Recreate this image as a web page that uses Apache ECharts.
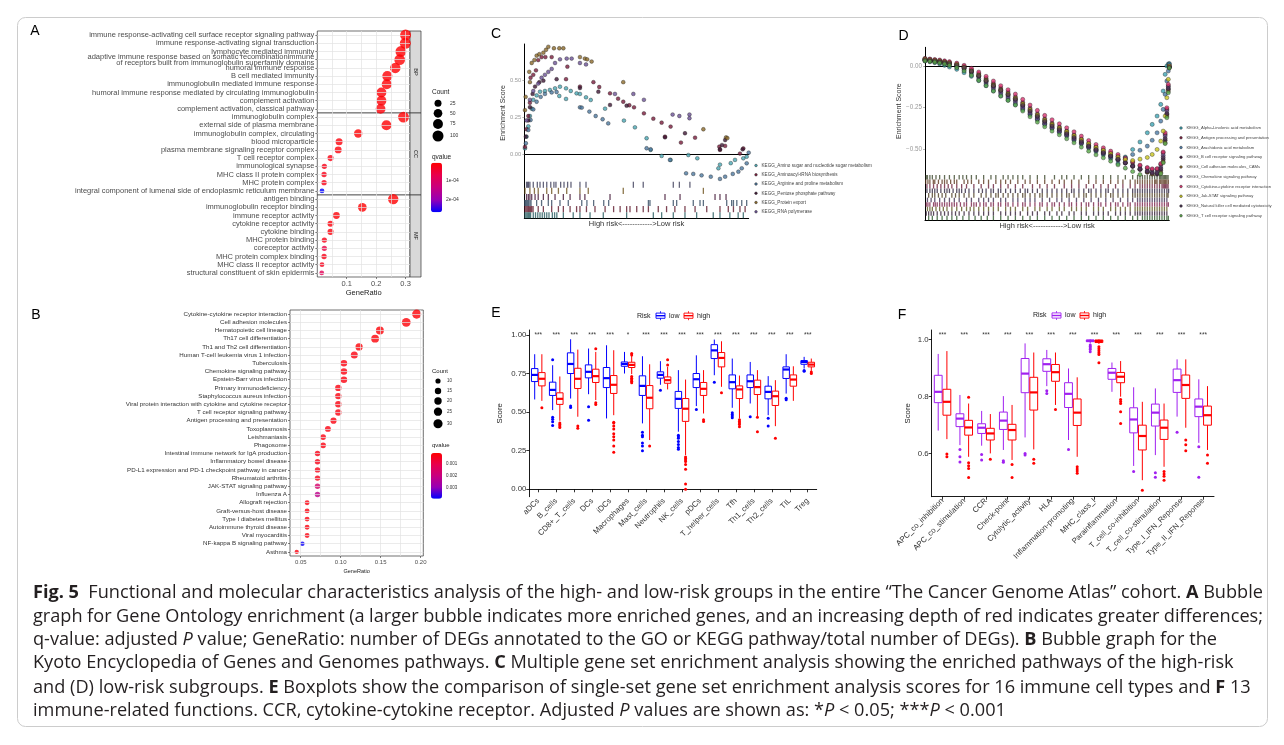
<!DOCTYPE html>
<html><head><meta charset="utf-8">
<script src="https://cdn.jsdelivr.net/npm/echarts@6/dist/echarts.min.js"></script>
<style>html,body{margin:0;padding:0;background:#fff}#c{width:1284px;height:745px}</style>
</head><body><div id="c"></div>
<script>
// ===================== DATA =====================
// ---- Panel A (GO enrichment) ----
const A_BP_TERMS = ['immune response-activating cell surface receptor signaling pathway','immune response-activating signal transduction','lymphocyte mediated immunity','adaptive immune response based on somatic recombinationimmune\nof receptors built from immunoglobulin superfamily domains','humoral immune response','B cell mediated immunity','immunoglobulin mediated immune response','humoral immune response mediated by circulating immunoglobulin','complement activation','complement activation, classical pathway'];
const A_BP_RATIO = [0.300,0.299,0.284,0.280,0.265,0.238,0.236,0.218,0.218,0.215];
const A_BP_COUNT = [100,100,95,93,88,79,79,73,73,72];
const A_BP_Q = [0.000001,0.000001,0.000002,0.000002,0.000003,0.000004,0.000004,0.000005,0.000005,0.000006];
const A_CC_TERMS = ['immunoglobulin complex','external side of plasma membrane','immunoglobulin complex, circulating','blood microparticle','plasma membrane signaling receptor complex','T cell receptor complex','immunological synapse','MHC class II protein complex','MHC protein complex','integral component of lumenal side of endoplasmic reticulum membrane'];
const A_CC_RATIO = [0.293,0.235,0.139,0.074,0.071,0.045,0.024,0.023,0.023,0.016];
const A_CC_COUNT = [98,78,46,25,24,15,8,8,8,5];
const A_CC_Q = [0.000001,0.000002,0.000003,0.00001,0.00001,0.000015,0.00002,0.00002,0.00002,0.00027];
const A_MF_TERMS = ['antigen binding','immunoglobulin receptor binding','immune receptor activity','cytokine receptor activity','cytokine binding','MHC protein binding','coreceptor activity','MHC protein complex binding','MHC class II receptor activity','structural constituent of skin epidermis'];
const A_MF_RATIO = [0.258,0.153,0.065,0.045,0.045,0.024,0.024,0.023,0.016,0.015];
const A_MF_COUNT = [86,51,22,15,15,8,8,8,5,5];
const A_MF_Q = [0.000001,0.000002,0.000005,0.00001,0.00001,0.00002,0.00006,0.00002,0.000025,0.00008];
const A_STRIPS = ['BP','CC','MF'];
const A_X_TICKS = [0.1,0.2,0.3];
const A_GRID = [0.05,0.1,0.15,0.2,0.25,0.3];
const A_COUNT_BREAKS = [25,50,75,100];
const A_Q_TICKS = [0.0001,0.0002];
const A_Q_LABELS = ['1e-04','2e-04'];

// ---- Panel B (KEGG enrichment) ----
const B_TERMS = ['Cytokine-cytokine receptor interaction','Cell adhesion molecules','Hematopoietic cell lineage','Th17 cell differentiation','Th1 and Th2 cell differentiation','Human T-cell leukemia virus 1 infection','Tuberculosis','Chemokine signaling pathway','Epstein-Barr virus infection','Primary immunodeficiency','Staphylococcus aureus infection','Viral protein interaction with cytokine and cytokine receptor','T cell receptor signaling pathway','Antigen processing and presentation','Toxoplasmosis','Leishmaniasis','Phagosome','Intestinal immune network for IgA production','Inflammatory bowel disease','PD-L1 expression and PD-1 checkpoint pathway in cancer','Rheumatoid arthritis','JAK-STAT signaling pathway','Influenza A','Allograft rejection','Graft-versus-host disease','Type I diabetes mellitus','Autoimmune thyroid disease','Viral myocarditis','NF-kappa B signaling pathway','Asthma'];
const B_RATIO = [0.195,0.182,0.149,0.143,0.123,0.117,0.104,0.104,0.104,0.097,0.097,0.097,0.097,0.091,0.084,0.078,0.078,0.071,0.071,0.071,0.071,0.071,0.071,0.058,0.058,0.058,0.058,0.058,0.052,0.045];
const B_COUNT = [30,28,23,22,19,18,16,16,16,15,15,15,15,14,13,12,12,11,11,11,11,11,11,9,9,9,9,9,8,7];
const B_Q = [0.0002,0.0002,0.0002,0.0002,0.0002,0.0003,0.0003,0.0003,0.0003,0.0003,0.0003,0.0003,0.0003,0.0003,0.0003,0.0003,0.0003,0.0004,0.0004,0.0004,0.0004,0.0016,0.0022,0.0003,0.0003,0.0003,0.0003,0.0003,0.0038,0.0003];
const B_X_TICKS = [0.05,0.10,0.15,0.20];
const B_GRID = [0.05,0.075,0.1,0.125,0.15,0.175,0.2];
const B_COUNT_BREAKS = [10,15,20,25,30];
const B_Q_TICKS = [0.001,0.002,0.003];
const B_Q_LABELS = ['0.001','0.002','0.003'];

// ---- Panel C (GSEA high risk) ----
const C_NAMES = ['KEGG_Amino sugar and nucleotide sugar metabolism','KEGG_Aminoacyl-tRNA biosynthesis','KEGG_Arginine and proline metabolism','KEGG_Pentose phosphate pathway','KEGG_Protein export','KEGG_RNA polymerase'];
const C_COLORS = ['#4AA8B4','#7A1C3C','#4E79A0','#3E1634','#8C6A2A','#6B5196'];
const C_AMINO_SUGAR = [[0.3,0.04],[1,0.12],[1.8,0.19],[2.5,0.26],[3.3,0.31],[4,0.37],[5.5,0.40],[7,0.425],[9.2,0.43],[11.4,0.437],[13.7,0.448],[15.9,0.459],[18.6,0.448],[15.6,0.396],[18.6,0.376],[20.7,0.43],[23.3,0.414],[24.8,0.41],[27.5,0.387],[29.6,0.369],[36,0.31],[44.4,0.229],[49.3,0.183],[54.5,0.109],[56.3,0.03],[61.2,-0.011],[65.2,-0.038],[73.1,-0.005],[77.1,-0.027],[86.5,-0.095],[87.2,-0.07],[92,-0.06],[93.9,-0.038],[97.6,-0.027],[99.1,-0.016]];
const C_AMINOACYL = [[0.3,0.05],[1,0.17],[1.8,0.26],[2.5,0.35],[2.8,0.52],[4,0.54],[5.2,0.57],[6.2,0.64],[7.7,0.66],[9.4,0.66],[12.2,0.66],[19.2,0.595],[18.6,0.51],[24.8,0.46],[30.8,0.49],[33.4,0.457],[38.2,0.414],[41.8,0.378],[44.1,0.357],[46.8,0.333],[48.9,0.319],[53.3,0.278],[57.5,0.242],[61.2,0.215],[65.2,0.188],[62.7,0.12],[69.8,0.08],[76.1,0.113],[86.9,0.052],[87.2,0.03],[89.5,0.057],[96.1,0.005],[97.6,0.04]];
const C_ARGININE = [[0.7,0.075],[1.8,0.165],[2.8,0.233],[4,0.305],[5.5,0.357],[7.3,0.39],[9.2,0.41],[12.2,0.42],[14.4,0.423],[24.8,0.319],[25.6,0.317],[29,0.29],[31.8,0.26],[34.9,0.238],[37.4,0.21],[54.5,0.041],[56.3,0.034],[64.9,-0.038],[72.1,-0.129],[75.3,-0.133],[79,-0.143],[83.1,-0.152],[87.2,-0.167],[89.5,-0.152],[92.9,-0.133],[95.4,-0.118],[96.9,-0.095],[99.1,-0.061],[100,0.011]];
const C_PENTOSE = [[0.7,0.12],[1.8,0.23],[2.5,0.32],[3.7,0.41],[4.8,0.46],[6.7,0.49],[8.5,0.5],[14.4,0.51],[24.8,0.45],[33,0.425],[38.2,0.335],[45.6,0.33],[62.7,0.115],[71.6,0.143],[87.2,0.034],[88.1,0.063],[89.5,0.097],[97.3,0.034]];
const C_PROTEIN_EXPORT = [[0.3,0.3],[0.6,0.39],[2.2,0.56],[2.5,0.49],[3.3,0.62],[4.5,0.64],[5.5,0.67],[6.7,0.68],[8.5,0.69],[9.7,0.71],[10.7,0.73],[13.2,0.72],[15.6,0.72],[17.4,0.72],[24.8,0.66],[27,0.65],[28,0.645],[30,0.63],[44.1,0.49],[79.8,0.17],[89.9,0.115],[90.5,0.11]];
const C_RNA_POL = [[1,0.23],[2.5,0.37],[4,0.43],[6.2,0.48],[7.7,0.52],[9.2,0.54],[10.7,0.56],[12.2,0.58],[13.7,0.62],[15.9,0.645],[18.9,0.65],[21.1,0.65],[24.8,0.62],[27.5,0.61],[40.4,0.41],[48.6,0.41],[53.3,0.37],[66.1,0.27],[69.1,0.26],[73.6,0.27],[73.6,0.245]];
const C_SERIES = [C_AMINO_SUGAR,C_AMINOACYL,C_ARGININE,C_PENTOSE,C_PROTEIN_EXPORT,C_RNA_POL];
const C_Y_TICKS = [0,0.25,0.5];
// rug rows (top to bottom), gene positions in % of ranked list
const C_RUG = [
 [1,1.5,1.9,2.5,4,5.8,7,8.5,10,11.8,13.2,14.1,16.2,17.7,19.3,20.8,24.8,27.5,48.6,53,66.4,69.1,73.8],
 [0.3,2.5,4.5,6.2,10,12.2,15.2,18.9,24.8,28.5,44.1,79.8],
 [1,1.8,2.5,3.3,4.8,6.2,8.5,10.7,13.7,17.4,20.4,24.8,27,38.2,62.7,69.4,85,87.2,89.9],
 [0.2,0.6,1,1.5,1.9,2.5,3,5.5,7.7,10.7,12.2,15.9,19.6,25.6,27.9,30.9,35.4,37.6,55.3,56,66.4,67.9,75.3,78.3,79.8,90.2,92.4,93.2,94.7,96.9,99.1],
 [0.3,0.8,1.3,1.8,2.3,2.8,3.3,3.9,6.2,8.5,12.2,15.2,17.4,20.4,23.3,24.8,27.7,31.5,36,39.8,42.7,45.6,47.1,50.1,53,55.3,59.7,63.4,67.1,71.6,76.1,81.3,87.2,90.9,93.2,96.1,98.4],
 [0.3,0.8,1.3,1.8,2.3,2.8,4,5,6,7,8,9,10,11,12.5,13.5,14.5,17.4,21.8,24.8,29.3,35.2,45.6,57.5,61.2,66.4,71.6,76.8,84.2,87.2,91.6,95.3,97.6]
];
const C_RUG_COLORS = ['#3E3E5A','#6E521E','#421636','#344A62','#5E1629','#285C60'];

// ---- Panel D (GSEA low risk) ----
const D_NAMES = ['KEGG_Alpha-Linolenic acid metabolism','KEGG_Antigen processing and presentation','KEGG_Arachidonic acid metabolism','KEGG_B cell receptor signaling pathway','KEGG_Cell adhesion molecules_CAMs','KEGG_Chemokine signaling pathway','KEGG_Cytokine-cytokine receptor interaction','KEGG_Jak-STAT signaling pathway','KEGG_Natural killer cell mediated cytotoxicity','KEGG_T cell receptor signaling pathway'];
const D_COLORS = ['#3DA5B5','#7C1E3F','#4B7AA6','#3A1736','#8A6A2C','#6A4E8F','#D8336F','#C8C41F','#4A3050','#59A848'];
const D_RUG_COLORS = ['#3E4A2E','#5E3A22','#6A1E3A','#302640','#4E3E24','#3E3050','#7A2248','#5A561E','#321E34','#2E5A2C'];
const D_X = [0,2,4,6,8,10,13,16,19,22,25,28,31,34,37,40,43,46,49,52,55,58,61,64,67,70,73,76,79,82,85,88,91,93,95,96.5,97.5,98.3,99,99.6,100];
const D_ALPHA = [0.030,0.025,0.020,0.012,0.004,-0.006,-0.020,-0.040,-0.062,-0.088,-0.118,-0.150,-0.180,-0.205,-0.232,-0.262,-0.292,-0.322,-0.350,-0.375,-0.398,-0.420,-0.445,-0.468,-0.492,-0.512,-0.532,-0.555,-0.585,-0.545,-0.500,-0.455,-0.400,-0.350,-0.300,-0.230,-0.150,-0.050,0.000,0.012,0.015];
const D_ANTIGEN = [0.045,0.040,0.036,0.032,0.027,0.021,0.012,-0.002,-0.022,-0.046,-0.074,-0.104,-0.132,-0.156,-0.184,-0.218,-0.252,-0.286,-0.316,-0.342,-0.364,-0.388,-0.412,-0.436,-0.462,-0.484,-0.502,-0.520,-0.540,-0.560,-0.580,-0.598,-0.612,-0.620,-0.618,-0.590,-0.520,-0.410,-0.260,-0.120,-0.003];
const D_ARACHIDONIC = [0.035,0.030,0.026,0.020,0.014,0.006,-0.006,-0.024,-0.048,-0.076,-0.106,-0.138,-0.168,-0.194,-0.222,-0.256,-0.288,-0.318,-0.346,-0.370,-0.392,-0.414,-0.438,-0.462,-0.486,-0.506,-0.526,-0.548,-0.566,-0.550,-0.530,-0.505,-0.480,-0.445,-0.400,-0.330,-0.260,-0.170,-0.090,-0.030,0.010];
const D_BCELL = [0.035,0.032,0.029,0.025,0.020,0.013,0.002,-0.014,-0.036,-0.062,-0.092,-0.122,-0.150,-0.176,-0.204,-0.240,-0.274,-0.306,-0.336,-0.362,-0.384,-0.408,-0.432,-0.458,-0.482,-0.502,-0.520,-0.540,-0.560,-0.582,-0.602,-0.620,-0.636,-0.645,-0.648,-0.625,-0.560,-0.445,-0.290,-0.140,-0.008];
const D_CAMS = [0.040,0.037,0.033,0.030,0.025,0.019,0.009,-0.006,-0.028,-0.054,-0.084,-0.114,-0.142,-0.168,-0.195,-0.230,-0.264,-0.298,-0.328,-0.352,-0.376,-0.398,-0.424,-0.448,-0.474,-0.496,-0.514,-0.534,-0.556,-0.578,-0.598,-0.618,-0.636,-0.648,-0.655,-0.640,-0.575,-0.460,-0.300,-0.150,-0.010];
const D_CHEMOKINE = [0.038,0.034,0.031,0.027,0.022,0.015,0.004,-0.012,-0.036,-0.064,-0.096,-0.128,-0.158,-0.185,-0.212,-0.248,-0.282,-0.316,-0.346,-0.370,-0.392,-0.414,-0.438,-0.462,-0.486,-0.506,-0.522,-0.540,-0.560,-0.580,-0.598,-0.615,-0.628,-0.635,-0.635,-0.605,-0.535,-0.420,-0.270,-0.125,-0.004];
const D_CYTOKINE = [0.045,0.042,0.039,0.036,0.031,0.026,0.017,0.004,-0.014,-0.036,-0.062,-0.090,-0.118,-0.142,-0.168,-0.200,-0.234,-0.266,-0.296,-0.322,-0.346,-0.370,-0.394,-0.420,-0.446,-0.470,-0.490,-0.510,-0.530,-0.552,-0.574,-0.594,-0.608,-0.616,-0.615,-0.585,-0.515,-0.400,-0.250,-0.110,0.000];
const D_JAKSTAT = [0.040,0.036,0.033,0.029,0.024,0.018,0.008,-0.008,-0.030,-0.056,-0.086,-0.116,-0.144,-0.168,-0.194,-0.228,-0.262,-0.294,-0.324,-0.350,-0.372,-0.394,-0.418,-0.442,-0.466,-0.488,-0.506,-0.526,-0.546,-0.560,-0.566,-0.558,-0.548,-0.530,-0.500,-0.450,-0.390,-0.300,-0.190,-0.080,0.000];
const D_NK = [0.036,0.033,0.030,0.026,0.021,0.015,0.004,-0.010,-0.032,-0.058,-0.088,-0.118,-0.146,-0.172,-0.200,-0.236,-0.270,-0.302,-0.332,-0.358,-0.380,-0.404,-0.428,-0.452,-0.478,-0.500,-0.518,-0.538,-0.558,-0.580,-0.600,-0.618,-0.632,-0.642,-0.642,-0.615,-0.548,-0.435,-0.285,-0.135,-0.006];
const D_TCELL = [0.030,0.027,0.023,0.018,0.012,0.004,-0.010,-0.030,-0.056,-0.086,-0.118,-0.150,-0.180,-0.206,-0.234,-0.270,-0.304,-0.336,-0.364,-0.390,-0.412,-0.436,-0.460,-0.486,-0.510,-0.532,-0.550,-0.570,-0.592,-0.612,-0.632,-0.650,-0.662,-0.668,-0.668,-0.645,-0.580,-0.465,-0.310,-0.160,-0.012];
const D_SERIES = [D_ALPHA,D_ANTIGEN,D_ARACHIDONIC,D_BCELL,D_CAMS,D_CHEMOKINE,D_CYTOKINE,D_JAKSTAT,D_NK,D_TCELL];
const D_Y_TICKS = [-0.5,-0.25,0];
const D_RUG = [
 [0.5,1,2,3,4.5,6,8,10,12,14,15.5,17,19,21,24,27,29,32,34,36,38,40,43,46,49,53,56,58,61,64,67,70,73,76,79,82,85,87,88,89,90,91,92,93,94,95,96,96.5,97,97.5,98,98.5,99,99.5],
 [0.3,1.2,2,3.4,4,5.5,7,8,9,10.5,12,13,16,17.5,19,22,24,26,29,31,33,35,38,41,43,46,49,52,55,57,60,63,67,70,73,76,79,81,84,86,87,88,89,90,91,92,93,94,94.5,95,96,96.5,97,97.5,98,98.5,99,99.6],
 [0.8,2,3.5,5,6.5,8,9.5,11,13,15,17,20,23,26,28,31,34,37,40,44,47,50,53,57,60,63,66,69,72,75,78,81,84,86,88,89,90,91,92,93,94,95,96,97,97.5,98,98.5,99,99.5],
 [0.8,2,3,4,5,6.5,8,9,10,11.5,13,14,15,16.5,18,20,22,23.5,25,27,28,30,31,33,35,37,39,41,42,44,46,48,50,52,54,56,58,60,61,63,65,67,68,70,72,74,75,77,79,81,83,85,86,87,88,89,90,91,92,93,94,95,96,97,98,99,99.7],
 [1.5,3,4,5.5,7,8.5,11,12.5,14,16,18,20,23,25,27,29,30,32,34,36,38,40,41,43,45,47,48,50,52,54,56,58,59,61,63,65,66,68,70,72,74,76,77,79,81,83,85,86,87,88,89,90,91,92,93,94,95,96,97,98,99,99.5],
 [1,2.5,4,6,8,10,12,14,17,19,22,24,26,28,31,33,36,38,41,43,45,48,51,54,56,59,62,65,68,71,74,77,80,83,85,87,88,89,90,91,92,93,94,95,96,97,98,99],
 [0.5,1.2,2,3.5,4.2,5,6,7,8,9,10,11,12,13,14.5,16,17,19,20,21,22.5,24,25,27,28,30,31,33,34,36,38,40,41,43,45,47,48,50,52,53,55,57,59,60,62,64,66,67,69,71,72,74,76,78,79,81,83,84,86,87,88,89,90,91,92,93,94,95,96,97,98,99,99.6],
 [1,2,3,4.5,6,7.5,9,11,13,15,17,18.5,20,22,24,26,28,30,33,35,37,40,42,45,47,50,52,55,57,60,62,64,66,69,71,73,76,78,80,82,84,86,87,88,89,90,91,92,93,94,95,96,97,98,99],
 [0.5,1.5,2.5,3.5,5,6.5,8,9.5,11,12.5,14,16,18,20,22,24,26,28,31,33,35,37,39,42,44,46,49,51,54,56,59,61,64,66,69,71,73,75,78,80,82,84,86,87,88,89,90,91,92,93,94,95,96,97,98,99],
 [1.5,3,5,7,9,11,13,15.5,18,20.5,23,25.5,28,31,34,37,40,43,46,49,52,55,58,61,64,67,70,73,76,79,82,85,87,89,90,91,92,93,94,95,96,97,98,99,99.6]
];

// ---- Panel E (ssGSEA immune cells) ----
const E_CATS = ['aDCs','B_cells','CD8+_T_cells','DCs','iDCs','Macrophages','Mast_cells','Neutrophils','NK_cells','pDCs','T_helper_cells','Tfh','Th1_cells','Th2_cells','TIL','Treg'];
const E_SIG = ['***','***','***','***','***','*','***','***','***','***','***','***','***','***','***','***'];
const E_Y_TICKS = [0,0.25,0.5,0.75,1.0];
// [lower whisker, Q1, median, Q3, upper whisker]
const E_LOW = [[0.582,0.698,0.741,0.782,0.875],[0.513,0.608,0.644,0.694,0.804],[0.588,0.750,0.812,0.884,0.972],[0.616,0.722,0.761,0.806,0.912],[0.459,0.659,0.720,0.789,0.933],[0.750,0.797,0.812,0.825,0.890],[0.427,0.608,0.670,0.735,0.862],[0.677,0.720,0.741,0.761,0.830],[0.373,0.524,0.586,0.634,0.772],[0.539,0.659,0.713,0.750,0.868],[0.739,0.847,0.900,0.937,0.970],[0.528,0.651,0.694,0.741,0.847],[0.556,0.659,0.700,0.741,0.825],[0.480,0.586,0.631,0.668,0.733],[0.620,0.718,0.776,0.793,0.875],[0.782,0.810,0.825,0.834,0.858]];
const E_LOW_OUT = [[],[0.84,0.466,0.453,0.438,0.413],[0.54,0.53],[0.534,0.448],[],[],[0.37,0.35,0.34,0.30,0.28,0.25],[0.642],[0.35,0.34,0.33,0.31,0.29,0.27,0.26],[0.517],[0.694],[0.496,0.485,0.475,0.463],[0.47],[0.46,0.41],[0.59,0.58],[0.77,0.765]];
const E_HIGH = [[0.573,0.670,0.716,0.756,0.875],[0.444,0.550,0.586,0.625,0.731],[0.470,0.653,0.716,0.784,0.905],[0.578,0.692,0.733,0.778,0.890],[0.480,0.621,0.677,0.737,0.901],[0.746,0.789,0.806,0.823,0.870],[0.319,0.522,0.593,0.672,0.810],[0.647,0.687,0.707,0.728,0.793],[0.222,0.440,0.522,0.588,0.711],[0.491,0.608,0.651,0.692,0.772],[0.664,0.793,0.851,0.886,0.959],[0.459,0.588,0.647,0.670,0.737],[0.470,0.614,0.662,0.707,0.772],[0.409,0.543,0.603,0.636,0.707],[0.573,0.668,0.711,0.741,0.797],[0.767,0.793,0.808,0.823,0.847]];
const E_HIGH_OUT = [[0.528],[0.43,0.42,0.41,0.40],[0.41,0.395],[0.91,0.56,0.55],[0.435,0.43,0.41,0.39,0.36,0.34,0.32,0.28,0.24],[0.88,0.87,0.73,0.72,0.71,0.70,0.69],[0.28],[0.84,0.806],[0.21,0.2,0.19,0.18,0.16,0.13,0.034,0.0],[0.45,0.44],[0.625],[0.45,0.44,0.43,0.42,0.405],[0.466,0.373],[0.33],[],[0.76,0.75]];

// ---- Panel F (ssGSEA immune functions) ----
const F_CATS = ['APC_co_inhibition','APC_co_stimulation','CCR','Check-point','Cytolytic_activity','HLA','Inflammation-promoting','MHC_class_I','Parainflammation','T_cell_co-inhibition','T_cell_co-stimulation','Type_I_IFN_Reponse','Type_II_IFN_Reponse'];
const F_SIG = ['***','***','***','***','***','***','***','***','***','***','***','***','***'];
const F_Y_TICKS = [0.6,0.8,1.0];
const F_LOW = [[0.680,0.778,0.816,0.874,0.949],[0.629,0.694,0.722,0.739,0.805],[0.627,0.670,0.690,0.704,0.749],[0.612,0.684,0.715,0.745,0.801],[0.656,0.813,0.880,0.933,0.986],[0.836,0.888,0.913,0.932,0.963],[0.647,0.761,0.809,0.848,0.898],[0.986,0.992,0.995,0.998,1.000],[0.816,0.860,0.883,0.898,0.919],[0.556,0.672,0.719,0.760,0.832],[0.594,0.696,0.743,0.773,0.828],[0.729,0.814,0.857,0.896,0.930],[0.637,0.729,0.764,0.791,0.860]];
const F_LOW_OUT = [[],[0.614,0.588,0.57],[0.596,0.577],[0.574,0.569],[0.600,0.594],[0.82,0.81],[0.614],[0.98,0.975,0.97,0.965,0.957],[],[0.536],[0.532,0.516],[0.674],[0.623,0.516]];
const F_HIGH = [[0.650,0.734,0.781,0.825,0.959],[0.588,0.664,0.691,0.716,0.775],[0.600,0.647,0.670,0.688,0.738],[0.577,0.647,0.682,0.702,0.770],[0.614,0.752,0.814,0.867,0.954],[0.770,0.853,0.885,0.912,0.954],[0.588,0.698,0.743,0.791,0.867],[0.984,0.989,0.994,0.998,1.000],[0.799,0.848,0.869,0.884,0.924],[0.506,0.612,0.661,0.699,0.781],[0.553,0.649,0.690,0.717,0.775],[0.690,0.793,0.840,0.875,0.930],[0.612,0.699,0.734,0.766,0.836]];
const F_HIGH_OUT = [[0.598,0.588],[0.797,0.567,0.557,0.547,0.515],[0.579],[0.561,0.515],[0.579,0.565],[0.754],[0.553,0.545,0.538,0.53],[0.974,0.967,0.96,0.953,0.947,0.918],[0.789,0.782,0.775,0.746,0.705],[0.471],[0.536,0.528,0.52,0.506],[0.647,0.63,0.609],[0.594,0.565]];

// ---- Caption ----
const CAPTION_LINES = [
 [['b','Fig. 5'],['n','  Functional and molecular characteristics analysis of the high- and low-risk groups in the entire \u201cThe Cancer Genome Atlas\u201d cohort. '],['b','A'],['n',' Bubble']],
 [['n','graph for Gene Ontology enrichment (a larger bubble indicates more enriched genes, and an increasing depth of red indicates greater differences;']],
 [['n','q-value: adjusted '],['i','P'],['n',' value; GeneRatio: number of DEGs annotated to the GO or KEGG pathway/total number of DEGs). '],['b','B'],['n',' Bubble graph for the']],
 [['n','Kyoto Encyclopedia of Genes and Genomes pathways. '],['b','C'],['n',' Multiple gene set enrichment analysis showing the enriched pathways of the high-risk']],
 [['n','and (D) low-risk subgroups. '],['b','E'],['n',' Boxplots show the comparison of single-set gene set enrichment analysis scores for 16 immune cell types and '],['b','F'],['n',' 13']],
 [['n','immune-related functions. CCR, cytokine-cytokine receptor. Adjusted '],['i','P'],['n',' values are shown as: *'],['i','P'],['n',' < 0.05; ***'],['i','P'],['n',' < 0.001']]
];
const CAPTION_JUSTIFY = [true,true,false,false,false,false];

// ===================== BUILD =====================
const FONT = '"Liberation Sans", Arial, Helvetica, sans-serif';
const GRAD = ['#FF0000','#E8004C','#C8007F','#9600B5','#0000FF'];
const sizeA = c => 0.8*Math.sqrt(c)+3;
const sizeB = c => 1.7*Math.sqrt(c)-0.2;
const grids=[], xAxes=[], yAxes=[], series=[], visualMaps=[], G=[];
const txt = (x,y,text,o) => Object.assign({type:'text', x, y, silent:true, style:Object.assign({text, fontSize:7, fontFamily:FONT, fill:'#1a1a1a', align:'left', verticalAlign:'middle'}, (o&&o.style)||{})}, o&&o.rotation!=null?{rotation:o.rotation}:{});
const circ = (cx,cy,r,fill,stroke) => ({type:'circle', silent:true, shape:{cx,cy,r}, style:{fill, stroke:stroke||null, lineWidth:stroke?0.5:0}});
const line = (x1,y1,x2,y2,stroke,w) => ({type:'line', silent:true, shape:{x1,y1,x2,y2}, style:{stroke, lineWidth:w||1}});

function gridLines(gi, xs, nCats, color){
  const d = xs.map(v=>({xAxis:v}));
  for(let k=0;k<nCats;k++) d.push({yAxis:k});
  return {type:'scatter', xAxisIndex:gi, yAxisIndex:gi, data:[], z:1, silent:true,
    markLine:{silent:true, symbol:['none','none'], precision:4, animation:false, label:{show:false},
      lineStyle:{color:color||'#e3e3e3', width:0.7, type:'solid'}, emphasis:{disabled:true}, data:d}};
}

// ---------- Panel A ----------
const A_FACETS = [
  {terms:A_BP_TERMS, ratio:A_BP_RATIO, count:A_BP_COUNT, q:A_BP_Q},
  {terms:A_CC_TERMS, ratio:A_CC_RATIO, count:A_CC_COUNT, q:A_CC_Q},
  {terms:A_MF_TERMS, ratio:A_MF_RATIO, count:A_MF_COUNT, q:A_MF_Q}];
const A_TOP = [31,113,195];
const aIdx=[];
A_FACETS.forEach((f,i)=>{
  const gi = grids.length;
  grids.push({left:317.3, top:A_TOP[i], width:92.7, height:82, show:true, borderColor:'#333', borderWidth:0.7, backgroundColor:'#fff'});
  xAxes.push({gridIndex:gi, type:'value', min:0, max:0.315, show:i===2,
    axisLine:{show:false}, splitLine:{show:false},
    axisTick:{show:true, customValues:A_X_TICKS, length:2, lineStyle:{color:'#333', width:0.6}},
    axisLabel:{show:true, customValues:A_X_TICKS, formatter:v=>String(+(+v).toFixed(2)), fontSize:7.5, color:'#4d4d4d', margin:3, fontFamily:FONT},
    name:'GeneRatio', nameLocation:'middle', nameGap:12, nameTextStyle:{fontSize:7.5, color:'#1a1a1a', fontFamily:FONT}});
  yAxes.push({gridIndex:gi, type:'category', data:f.terms, inverse:true, axisLine:{show:false}, splitLine:{show:false},
    axisTick:{show:true, length:2, alignWithLabel:true, interval:0, lineStyle:{color:'#333', width:0.6}},
    axisLabel:{interval:0, fontSize:7.5, color:'#4d4d4d', margin:3, lineHeight:6, fontFamily:FONT}});
  series.push(gridLines(gi, A_GRID, f.terms.length));
  aIdx.push(series.length);
  series.push({type:'scatter', xAxisIndex:gi, yAxisIndex:gi, z:3, silent:true,
    data:f.terms.map((t,k)=>[f.ratio[k], k, f.count[k], f.q[k]]),
    symbolSize:v=>sizeA(v[2])});
  G.push({type:'rect', silent:true, shape:{x:410, y:A_TOP[i], width:11, height:82}, style:{fill:'#d9d9d9', stroke:'#333', lineWidth:0.7}});
  G.push(txt(415.5, A_TOP[i]+41, A_STRIPS[i], {rotation:-Math.PI/2, style:{fontSize:5.5, align:'center'}}));
});
visualMaps.push({type:'continuous', seriesIndex:aIdx, dimension:3, min:0, max:0.00027, inverse:true, calculable:false,
  inRange:{color:GRAD}, left:431, top:162.7, itemWidth:11, itemHeight:49.6, padding:0, hoverLink:false, text:null});
G.push(txt(432, 92.7, 'Count', {style:{fontSize:6.5}}));
[103.3,113.3,124,136].forEach((y,k)=>{ G.push(circ(438, y, sizeA(A_COUNT_BREAKS[k])/2, '#000')); G.push(txt(450, y, String(A_COUNT_BREAKS[k]), {style:{fontSize:5, fill:'#333'}})); });
G.push(txt(432, 157.7, 'qvalue', {style:{fontSize:6.5}}));
A_Q_TICKS.forEach((v,k)=>{ const y = 162.7 + (v-0)/(0.00027)*49.6;
  G.push(line(431, y, 433.2, y, '#fff', 0.8)); G.push(line(439.8, y, 442, y, '#fff', 0.8));
  G.push(txt(446, y, A_Q_LABELS[k], {style:{fontSize:5, fill:'#333'}})); });

// ---------- Panel B ----------
{
  const gi = grids.length;
  grids.push({left:290, top:310, width:133.3, height:246, show:true, borderColor:'#333', borderWidth:0.7, backgroundColor:'#fff'});
  xAxes.push({gridIndex:gi, type:'value', min:0.0366, max:0.2033,
    axisLine:{show:false}, splitLine:{show:false},
    axisTick:{show:true, customValues:B_X_TICKS, length:2, lineStyle:{color:'#333', width:0.6}},
    axisLabel:{customValues:B_X_TICKS, formatter:v=>(+v).toFixed(2), fontSize:6, color:'#4d4d4d', margin:3, fontFamily:FONT},
    name:'GeneRatio', nameLocation:'middle', nameGap:12, nameTextStyle:{fontSize:5.5, color:'#1a1a1a', fontFamily:FONT}});
  yAxes.push({gridIndex:gi, type:'category', data:B_TERMS, inverse:true, axisLine:{show:false}, splitLine:{show:false},
    axisTick:{show:true, length:2, alignWithLabel:true, interval:0, lineStyle:{color:'#333', width:0.6}},
    axisLabel:{interval:0, fontSize:6.2, color:'#333', margin:3, fontFamily:FONT}});
  series.push(gridLines(gi, B_GRID, B_TERMS.length));
  const bi = series.length;
  series.push({type:'scatter', xAxisIndex:gi, yAxisIndex:gi, z:3, silent:true,
    data:B_TERMS.map((t,k)=>[B_RATIO[k], k, B_COUNT[k], B_Q[k]]), symbolSize:v=>sizeB(v[2])});
  visualMaps.push({type:'continuous', seriesIndex:[bi], dimension:3, min:0.00012, max:0.00388, inverse:true, calculable:false,
    inRange:{color:GRAD}, left:431, top:453, itemWidth:11, itemHeight:45.7, padding:0, hoverLink:false, text:null});
  G.push(txt(432, 371, 'Count', {style:{fontSize:6}}));
  [381,391,401,411.7,423.7].forEach((y,k)=>{ G.push(circ(438, y, sizeB(B_COUNT_BREAKS[k])/2, '#000')); G.push(txt(447, y, String(B_COUNT_BREAKS[k]), {style:{fontSize:4.5, fill:'#333'}})); });
  G.push(txt(432, 445.7, 'qvalue', {style:{fontSize:6}}));
  B_Q_TICKS.forEach((v,k)=>{ const y = 453 + (v-0.00012)/(0.00388-0.00012)*45.7;
    G.push(line(431, y, 433.2, y, '#fff', 0.8)); G.push(line(439.8, y, 442, y, '#fff', 0.8));
    G.push(txt(446, y, B_Q_LABELS[k], {style:{fontSize:4.5, fill:'#333'}})); });
}

// ---------- GSEA panels (C, D) ----------
function gseaPanel(cfg){
  const gm = grids.length;
  grids.push({left:cfg.left, top:cfg.top, width:cfg.width, height:cfg.hMain});
  xAxes.push({gridIndex:gm, type:'value', min:0, max:100, axisLine:{show:true, onZero:true, lineStyle:{color:'#000', width:1}}, axisTick:{show:false}, axisLabel:{show:false}, splitLine:{show:false}});
  yAxes.push({gridIndex:gm, type:'value', min:cfg.ymin, max:cfg.ymax, axisLine:{show:true, lineStyle:{color:'#000', width:1}},
    axisTick:{show:true, customValues:cfg.ticks, length:2, lineStyle:{color:'#888', width:0.6}},
    axisLabel:{customValues:cfg.ticks, formatter:v=>(v<0?'\u2212':'')+Math.abs(v).toFixed(2), fontSize:cfg.fs, color:'#999', margin:3, fontFamily:FONT},
    splitLine:{show:false}, name:'Enrichment Score', nameLocation:'middle', nameGap:cfg.nameGap, nameTextStyle:{fontSize:7, color:'#333', fontFamily:FONT}});
  cfg.series.forEach((s,k)=>{
    series.push({type:'scatter', name:cfg.names[k], xAxisIndex:gm, yAxisIndex:gm, z:3, silent:true, symbolSize:cfg.sym,
      data:s, itemStyle:{color:cfg.colors[k], borderColor:'#1a1a1a', borderWidth:0.45}});
  });
  const gr = grids.length;
  grids.push({left:cfg.left, top:cfg.top+cfg.hMain, width:cfg.width, height:cfg.hRug});
  xAxes.push({gridIndex:gr, type:'value', min:0, max:100, axisLine:{show:true, lineStyle:{color:'#000', width:1}}, axisTick:{show:false}, axisLabel:{show:false}, splitLine:{show:false},
    name:'High risk<------------>Low risk', nameLocation:'middle', nameGap:2, nameTextStyle:{fontSize:7.5, color:'#333', fontFamily:FONT, verticalAlign:'top'}});
  const rows = cfg.rug.map((r,k)=>String(k));
  yAxes.push({gridIndex:gr, type:'category', data:rows, inverse:true, axisLine:{show:true, lineStyle:{color:'#000', width:1}}, axisTick:{show:false}, axisLabel:{show:false}, splitLine:{show:false}});
  const rh = cfg.hRug/cfg.rug.length;
  cfg.rug.forEach((r,k)=>{
    series.push({type:'scatter', xAxisIndex:gr, yAxisIndex:gr, silent:true, symbol:'rect', symbolSize:[1.3, rh],
      data:r.map(x=>[x,k]), itemStyle:{color:cfg.rugColors[k]}});
  });
  cfg.names.forEach((n,k)=>{
    const y = cfg.legTop + k*cfg.legGap;
    G.push(circ(cfg.legX, y, cfg.legR, cfg.colors[k], '#333'));
    G.push(txt(cfg.legX+5.5, y, n, {style:{fontSize:cfg.legFs, fill:'#444'}}));
  });
}
gseaPanel({left:524.3, top:44, width:224.4, hMain:137.7, hRug:36.6, ymin:-0.186, ymax:0.749, ticks:C_Y_TICKS, fs:5.8, nameGap:16,
  series:C_SERIES, names:C_NAMES, colors:C_COLORS, sym:3.8, rug:C_RUG, rugColors:C_RUG_COLORS,
  legX:756, legTop:165.5, legGap:9.25, legR:1.3, legFs:4.6});
gseaPanel({left:925, top:47.3, width:244.3, hMain:127.7, hRug:45.3, ymin:-0.653, ymax:0.112, ticks:D_Y_TICKS, fs:6.3, nameGap:20,
  series:D_SERIES.map(s=>D_X.map((x,k)=>[x, s[k]])), names:D_NAMES, colors:D_COLORS, sym:4.1, rug:D_RUG, rugColors:D_RUG_COLORS,
  legX:1181, legTop:128, legGap:9.75, legR:1.3, legFs:4.2});

// ---------- Boxplot panels (E, F) ----------
function boxSeries(gi, stats, color, side){
  return {type:'custom', xAxisIndex:gi, yAxisIndex:gi, z:3, silent:true, data:stats.map((d,i)=>[i].concat(d)), encode:{x:0, y:[1,2,3,4,5]},
    renderItem:(p, api)=>{
      const i = api.value(0), band = api.size([1,0])[0];
      const xc = api.coord([i, api.value(3)])[0] + side*0.2*band, w = 0.36*band;
      const Y = k => api.coord([i, api.value(k)])[1];
      const lo=Y(1), q1=Y(2), md=Y(3), q3=Y(4), hi=Y(5);
      return {type:'group', children:[
        {type:'line', shape:{x1:xc,y1:hi,x2:xc,y2:q3}, style:{stroke:color, lineWidth:1}},
        {type:'line', shape:{x1:xc,y1:q1,x2:xc,y2:lo}, style:{stroke:color, lineWidth:1}},
        {type:'rect', shape:{x:xc-w/2, y:q3, width:w, height:q1-q3}, style:{fill:'#fff', stroke:color, lineWidth:1}},
        {type:'line', shape:{x1:xc-w/2, y1:md, x2:xc+w/2, y2:md}, style:{stroke:color, lineWidth:2.2}}]};
    }};
}
function outSeries(gi, outs, color, side){
  const data=[]; outs.forEach((arr,i)=>arr.forEach(v=>data.push([i,v])));
  return {type:'custom', xAxisIndex:gi, yAxisIndex:gi, z:4, silent:true, data, encode:{x:0, y:1},
    renderItem:(p, api)=>{ const band=api.size([1,0])[0]; const pt=api.coord([api.value(0), api.value(1)]);
      return {type:'circle', shape:{cx:pt[0]+side*0.2*band, cy:pt[1], r:1.5}, style:{fill:color}}; }};
}
function sigSeries(gi, sig, yv){
  return {type:'custom', xAxisIndex:gi, yAxisIndex:gi, z:4, silent:true, data:sig.map((s,i)=>[i, yv]), encode:{x:0, y:1},
    renderItem:(p, api)=>{ const pt=api.coord([api.value(0), api.value(1)]);
      return {type:'text', x:pt[0], y:pt[1], style:{text:sig[p.dataIndex], fontSize:6.5, fill:'#333', align:'center', verticalAlign:'middle', fontFamily:FONT}}; }};
}
function riskLegend(x, y, cLow, cHigh){
  G.push(txt(x, y, 'Risk', {style:{fontSize:7, fill:'#222'}}));
  [[x+19, cLow, 'low'],[x+47, cHigh, 'high']].forEach(([kx,c,l])=>{
    G.push(line(kx+4.5, y-4.5, kx+4.5, y+4.5, c, 0.8));
    G.push({type:'rect', silent:true, shape:{x:kx, y:y-2.6, width:9, height:5.2}, style:{fill:'#fff', stroke:c, lineWidth:0.9}});
    G.push(line(kx, y, kx+9, y, c, 1.4));
    G.push(txt(kx+13, y, l, {style:{fontSize:7, fill:'#222'}}));
  });
}
function boxPanel(cfg){
  const gi = grids.length;
  grids.push({left:cfg.left, top:330, width:cfg.width, height:166.7});
  xAxes.push({gridIndex:gi, type:'category', data:cfg.cats, axisLine:{show:true, lineStyle:{color:'#000', width:0.9}},
    axisTick:{show:true, alignWithLabel:true, interval:0, length:3, lineStyle:{color:'#000', width:0.8}},
    axisLabel:{interval:0, rotate:45, fontSize:7.8, color:'#333', margin:3, fontFamily:FONT}, splitLine:{show:false}});
  yAxes.push({gridIndex:gi, type:'value', min:cfg.ymin, max:cfg.ymax, axisLine:{show:true, lineStyle:{color:'#000', width:0.9}},
    axisTick:{show:true, customValues:cfg.ticks, length:3, lineStyle:{color:'#000', width:0.8}},
    axisLabel:{customValues:cfg.ticks, formatter:v=>(+v).toFixed(cfg.dec), fontSize:7.8, color:'#333', margin:3, fontFamily:FONT},
    splitLine:{show:false}, name:'Score', nameLocation:'middle', nameGap:cfg.nameGap, nameTextStyle:{fontSize:7.8, color:'#222', fontFamily:FONT}});
  series.push(boxSeries(gi, cfg.low, cfg.cLow, -1));
  series.push(boxSeries(gi, cfg.high, cfg.cHigh, 1));
  series.push(outSeries(gi, cfg.lowOut, cfg.cLow, -1));
  series.push(outSeries(gi, cfg.highOut, cfg.cHigh, 1));
  series.push(sigSeries(gi, cfg.sig, cfg.sigY));
}
boxPanel({left:529.3, width:287.4, cats:E_CATS, ymin:-0.048, ymax:1.032, ticks:E_Y_TICKS, dec:2, nameGap:25,
  low:E_LOW, high:E_HIGH, lowOut:E_LOW_OUT, highOut:E_HIGH_OUT, cLow:'#0000FF', cHigh:'#FF0000', sig:E_SIG, sigY:1.0});
boxPanel({left:931.7, width:282.3, cats:F_CATS, ymin:0.448, ymax:1.033, ticks:F_Y_TICKS, dec:1, nameGap:20,
  low:F_LOW, high:F_HIGH, lowOut:F_LOW_OUT, highOut:F_HIGH_OUT, cLow:'#A020F0', cHigh:'#FF0000', sig:F_SIG, sigY:1.015});
riskLegend(637, 315.7, '#0000FF', '#FF0000');
riskLegend(1033, 315.5, '#A020F0', '#FF0000');

// ---------- panel letters & frame ----------
[['A',35,31],['B',36,315],['C',496,34],['D',903.5,36],['E',496,313.5],['F',902,314.7]].forEach(([l,x,y])=>
  G.push(txt(x, y, l, {style:{fontSize:14, fill:'#000', align:'center'}})));
G.unshift({type:'rect', silent:true, z:-10, shape:{x:17.5, y:17.5, width:1250, height:709, r:8}, style:{fill:'#fff', stroke:'#cccccc', lineWidth:1}});

// ---------- caption ----------
function buildCaption(){
  const ctx = document.createElement('canvas').getContext('2d');
  const fam = '"Open Sans"';
  const fnt = (st,sz)=>(st==='i'?'italic ':'')+(st==='b'?'bold ':'')+sz+'px '+fam;
  const meas = (t,st,sz)=>{ ctx.font=fnt(st,sz); return ctx.measureText(t).width; };
  const tok = ln=>{ const words=[]; let cur=null, sp=0;
    ln.forEach(([st,tx])=>{ for(const ch of tx){ if(ch===' '){ if(cur){words.push(cur);cur=null;} sp++; }
      else { if(!cur){ cur={runs:[], sp:words.length?sp:0}; sp=0; } const last=cur.runs[cur.runs.length-1];
        if(last && last.st===st) last.t+=ch; else cur.runs.push({st, t:ch}); } } });
    if(cur) words.push(cur); return words; };
  const natural = (words,sz)=>words.reduce((a,wd)=>a+wd.runs.reduce((b,r)=>b+meas(r.t,r.st,sz),0)+wd.sp*meas(' ','n',sz),0);
  const sz = Math.max(15, Math.min(21, 20*1219/natural(tok(CAPTION_LINES[4]),20)));
  const ys = [593.3,616.7,640,663.3,687.5,710.8];
  const out=[];
  CAPTION_LINES.forEach((ln,li)=>{
    const words = tok(ln);
    const wsum = words.reduce((a,wd)=>a+wd.runs.reduce((b,r)=>b+meas(r.t,r.st,sz),0),0);
    const units = words.reduce((a,wd)=>a+wd.sp,0);
    const unit = CAPTION_JUSTIFY[li] ? (1230-wsum)/units : meas(' ','n',sz);
    let x = 33;
    words.forEach(wd=>{ x += wd.sp*unit; wd.runs.forEach(r=>{
      out.push({type:'text', x, y:ys[li], silent:true, style:{text:r.t, fontSize:sz, fontFamily:fam, fontWeight:r.st==='b'?'bold':'normal', fontStyle:r.st==='i'?'italic':'normal', fill:'#231f20', align:'left', verticalAlign:'middle'}});
      x += meas(r.t,r.st,sz); }); });
  });
  return out;
}
buildCaption().forEach(e=>G.push(e));

const chart = echarts.init(document.getElementById('c'), null, {renderer:'canvas', width:1284, height:745});
chart.setOption({
  animation:false, backgroundColor:'#fff', textStyle:{fontFamily:FONT},
  grid:grids, xAxis:xAxes, yAxis:yAxes, series, visualMap:visualMaps,
  graphic:{elements:G}
});
</script></body></html>
